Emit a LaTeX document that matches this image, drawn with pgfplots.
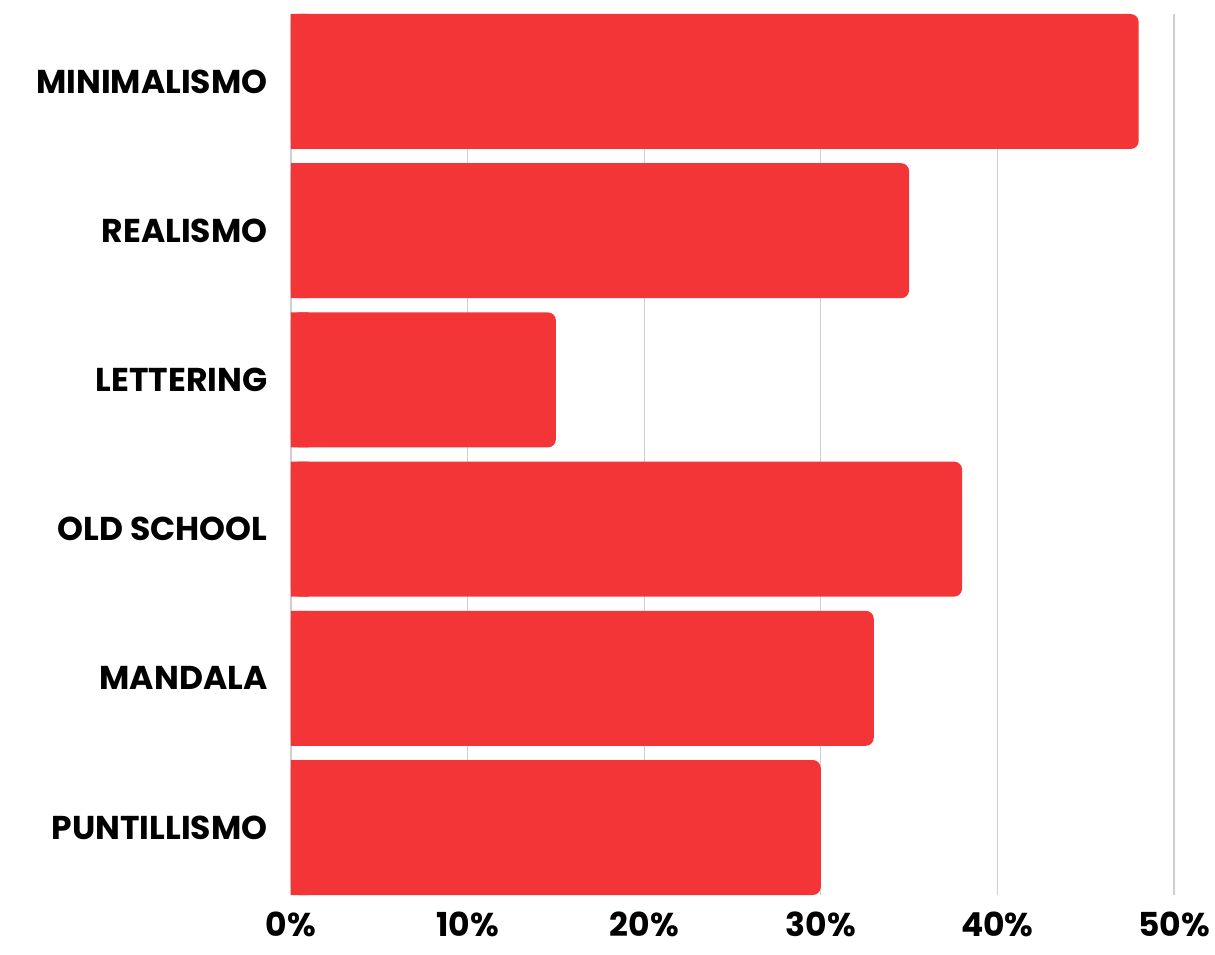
\documentclass[border=0pt]{standalone}
\usepackage{pgfplots}
\pgfplotsset{compat=1.18}
\usetikzlibrary{calc}
\usepackage{fontspec}
\setmainfont{Poppins}
\definecolor{barred}{HTML}{F43538}
\definecolor{gridgray}{HTML}{CFCFCF}
\begin{document}
\begin{tikzpicture}
\begin{axis}[
  name=a,
  scale only axis,
  width=441.5pt, height=440.5pt,
  xbar, bar width=67.5pt, bar shift=0pt,
  xmin=0, xmax=50,
  ymin=-0.4524, ymax=5.4524,
  axis line style={draw=none},
  xtick={0,10,20,30,40,50},
  xticklabels={0\%,10\%,20\%,30\%,40\%,50\%},
  ytick={0,1,2,3,4,5},
  yticklabels={PUNTILLISMO,MANDALA,OLD SCHOOL,LETTERING,REALISMO,MINIMALISMO},
  tick style={draw=none},
  xmajorgrids, grid style={gridgray, line width=0.6pt},
  ymajorgrids=false,
  tick label style={font=\bfseries\fontsize{16.5}{18}\selectfont},
  yticklabel style={xshift=-4pt},
  xticklabel style={yshift=-5pt},
  clip=false,
]
\addplot[fill=barred, draw=none, rounded corners=4pt] coordinates {
  (30,0) (33,1) (38,2) (15,3) (35,4) (48,5)
};
% square left ends of the bars
\addplot[fill=barred, draw=none] coordinates {
  (1,0) (1,1) (1,2) (1,3) (1,4) (1,5)
};
\end{axis}
\pgfresetboundingbox
\path[use as bounding box] ($(a.south west)+(-145.5pt,-29.5pt)$) rectangle ++(607.5pt,477pt);
\end{tikzpicture}
\end{document}
